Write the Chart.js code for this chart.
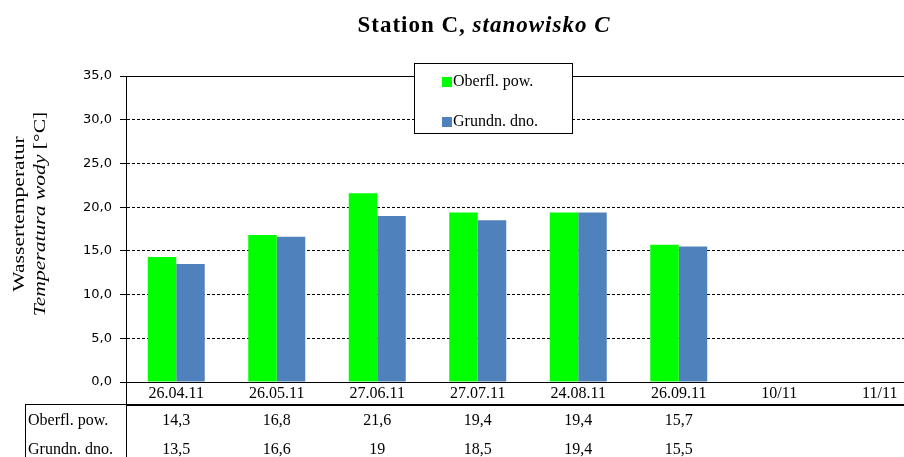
<!DOCTYPE html>
<html>
<head>
<meta charset="utf-8">
<script src="https://cdn.jsdelivr.net/npm/chart.js@4.4.0/dist/chart.umd.js"></script>
<style>
    html, body { margin: 0; padding: 0; background: #fff; overflow: hidden; }
    #wrap { width: 904px; height: 457px; overflow: hidden; }
</style>
</head>
<body>
<div id="wrap"><canvas id="chart" width="930" height="457"></canvas></div>
<script>
const categories = ['26.04.11', '26.05.11', '27.06.11', '27.07.11', '24.08.11', '26.09.11', '10/11', '11/11'];
const surfaceTemp = [14.3, 16.8, 21.6, 19.4, 19.4, 15.7, null, null];
const bottomTemp = [13.5, 16.6, 19, 18.5, 19.4, 15.5, null, null];
const seriesLabels = ['Oberfl. pow.', 'Grundn. dno.'];
const seriesColors = ['#00FF00', '#4F81BD'];

const SERIF = '"Liberation Serif", "Times New Roman", serif';
const SANS = '"DejaVu Sans", Tahoma, sans-serif';

const fmt = (v) => (v === null || v === undefined) ? '' : String(v).replace('.', ',');

// title, y axis title, legend box, data table and the extra frame lines
const decorPlugin = {
    id: 'decor',
    afterDraw(chart) {
        const ctx = chart.ctx;
        const area = chart.chartArea;
        const xScale = chart.scales.x;
        ctx.save();
        ctx.fillStyle = '#000';
        ctx.strokeStyle = '#000';
        ctx.lineWidth = 1;

        // solid top border of the plot
        ctx.beginPath();
        ctx.moveTo(area.left, Math.round(area.top) + 0.5);
        ctx.lineTo(area.right, Math.round(area.top) + 0.5);
        ctx.stroke();

        // title, mixed upright / italic
        const partA = 'Station C, ';
        const partB = 'stanowisko C';
        const fontA = 'bold 23px ' + SERIF;
        const fontB = 'italic bold 23px ' + SERIF;
        ctx.letterSpacing = '1px';
        ctx.font = fontA;
        const wA = ctx.measureText(partA).width;
        ctx.font = fontB;
        const wB = ctx.measureText(partB).width;
        const tx = 484 - (wA + wB) / 2;
        ctx.textBaseline = 'alphabetic';
        ctx.textAlign = 'left';
        ctx.font = fontA;
        ctx.fillText(partA, tx, 32);
        ctx.font = fontB;
        ctx.fillText(partB, tx + wA, 32);
        ctx.letterSpacing = '0px';

        // y axis title, two lines rotated and a bit stretched
        ctx.save();
        ctx.translate(24, 214);
        ctx.rotate(-Math.PI / 2);
        ctx.scale(1.27, 1);
        ctx.font = '17px ' + SERIF;
        ctx.textAlign = 'center';
        ctx.fillText('Wassertemperatur', 0, 0);
        const l2a = 'Temperatura wody';
        const l2b = ' [°C]';
        ctx.font = 'italic 17px ' + SERIF;
        const w2a = ctx.measureText(l2a).width;
        ctx.font = '17px ' + SERIF;
        const w2b = ctx.measureText(l2b).width;
        ctx.textAlign = 'left';
        ctx.font = 'italic 17px ' + SERIF;
        ctx.fillText(l2a, -(w2a + w2b) / 2, 21);
        ctx.font = '17px ' + SERIF;
        ctx.fillText(l2b, -(w2a + w2b) / 2 + w2a, 21);
        ctx.restore();

        // legend box
        const lx = area.left + 288, ly = area.top - 13, lw = 158, lh = 70;
        ctx.fillStyle = '#fff';
        ctx.fillRect(lx, ly, lw, lh);
        ctx.strokeRect(lx + 0.5, ly + 0.5, lw, lh);
        ctx.font = '16px ' + SERIF;
        ctx.textAlign = 'left';
        ctx.textBaseline = 'middle';
        chart.data.datasets.forEach((ds, i) => {
            const iy = ly + 19 + i * 40;
            ctx.fillStyle = ds.backgroundColor;
            ctx.fillRect(lx + 28, iy - 5, 10, 10);
            ctx.fillStyle = '#000';
            ctx.fillText(ds.label, lx + 39, iy);
        });

        // data table under the x axis
        const top = 404;
        const bottom = chart.height;
        ctx.beginPath();
        ctx.moveTo(25.5, top + 0.5);
        ctx.lineTo(area.left, top + 0.5);
        ctx.moveTo(25.5, top);
        ctx.lineTo(25.5, bottom);
        ctx.moveTo(Math.round(area.left) + 0.5, area.bottom);
        ctx.lineTo(Math.round(area.left) + 0.5, bottom);
        ctx.stroke();
        ctx.lineWidth = 2;
        ctx.beginPath();
        ctx.moveTo(area.left, top + 1);
        ctx.lineTo(area.right, top + 1);
        ctx.stroke();

        ctx.fillStyle = '#000';
        ctx.font = '16px ' + SERIF;
        ctx.textBaseline = 'middle';
        chart.data.datasets.forEach((ds, r) => {
            const ry = 421 + r * 29;
            ctx.textAlign = 'left';
            ctx.fillText(ds.label, 28, ry);
            ctx.textAlign = 'center';
            ds.data.forEach((v, c) => {
                ctx.fillText(fmt(v), xScale.getPixelForValue(c), ry);
            });
        });
        ctx.restore();
    }
};

new Chart(document.getElementById('chart'), {
    type: 'bar',
    data: {
        labels: categories,
        datasets: [
            { label: seriesLabels[0], data: surfaceTemp, backgroundColor: seriesColors[0] },
            { label: seriesLabels[1], data: bottomTemp, backgroundColor: seriesColors[1] }
        ]
    },
    options: {
        responsive: false,
        animation: false,
        devicePixelRatio: 1,
        layout: { padding: { top: 76, bottom: 53, left: 0, right: 0 } },
        datasets: {
            bar: { categoryPercentage: 0.567, barPercentage: 1.0, borderWidth: 0 }
        },
        plugins: {
            legend: { display: false },
            title: { display: false },
            tooltip: { enabled: false }
        },
        scales: {
            x: {
                grid: { display: false, drawTicks: false, tickLength: 0 },
                border: { color: '#000', width: 1 },
                ticks: {
                    color: '#000',
                    font: { family: SERIF, size: 16 },
                    padding: 2,
                    maxRotation: 0,
                    autoSkip: false
                },
                afterFit: (scale) => { scale.height = 22; }
            },
            y: {
                min: 0,
                max: 35,
                ticks: {
                    stepSize: 5,
                    color: '#000',
                    font: { family: SANS, size: 13 },
                    padding: 8,
                    callback: (v) => v.toFixed(1).replace('.', ',')
                },
                grid: {
                    color: (c) => (c.tick && c.tick.value === 35) ? 'rgba(0,0,0,0)' : '#000',
                    tickColor: '#000',
                    tickLength: 6,
                    lineWidth: 1
                },
                border: { color: '#000', width: 1, dash: [3, 2] },
                afterFit: (scale) => { scale.width = 126; }
            }
        }
    },
    plugins: [decorPlugin]
});
</script>
</body>
</html>
